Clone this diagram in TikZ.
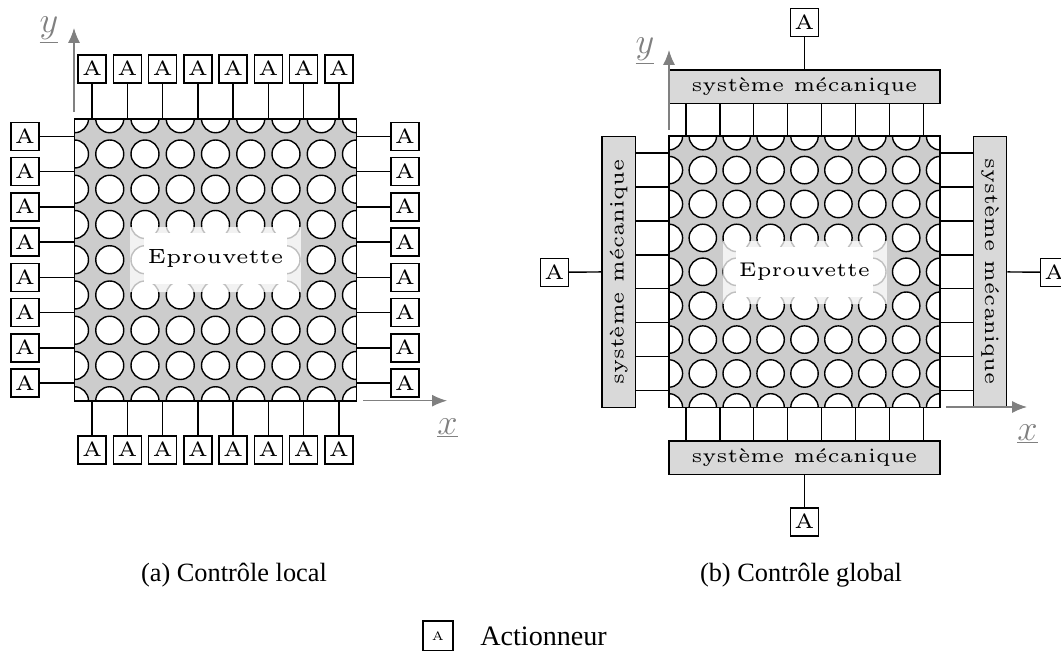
\documentclass[tikz,border=0pt]{standalone}
\usepackage{fontspec}
\setmainfont{Liberation Serif}
\usetikzlibrary{arrows.meta,calc}
\font\wideA=cmr5 at 11.7pt
\font\wideB=cmr5 at 11.3pt
\font\wideC=cmr5 at 7pt
\newcommand{\grv}[1]{{\accent18 #1}}
\newcommand{\acu}[1]{{\accent19 #1}}
\newcommand{\sysname}{syst\grv{e}me m\acu{e}canique}
\newcommand{\platecells}[5]{%
    % plaque perforee : nom, centre x, centre y, pas, rayon
    \node[plate, minimum size=8*#4*0.02cm] (#1) at (#2,#3) {};
    \begin{scope}
        \clip (#1.south west) rectangle (#1.north east);
        \foreach \i in {-4,...,4}
            \foreach \j in {-4,...,4}
                \draw[hole] (#2+\i*#4,#3+\j*#4) circle (#5);
    \end{scope}
    \node[plateborder, minimum size=8*#4*0.02cm] at (#1) {};
}
\begin{document}
\begin{tikzpicture}[
        x=0.02cm, y=-0.02cm,
        % Styles des elements
        plate/.style={fill=black!20, inner sep=0pt, outer sep=0pt},
        plateborder/.style={draw=black, line width=1pt, inner sep=0pt, outer sep=0pt},
        hole/.style={draw=black, fill=white, line width=0.8pt},
        actuator/.style={draw=black, fill=white, line width=0.8pt, minimum size=28*0.02cm, inner sep=0pt, font=\wideA},
        mecabox/.style={draw=black, fill=black!15, line width=0.8pt, inner sep=0pt, font=\wideB, minimum width=271*0.02cm, minimum height=33.5*0.02cm},
        link/.style={black, line width=0.8pt},
        axis/.style={black!50, line width=0.7pt, -{Latex[length=8.5pt,width=6.8pt]}},
        axislabel/.style={black!50, font=\fontsize{22}{22}\selectfont},
        caption/.style={anchor=base, font=\fontsize{15}{18}\selectfont}
    ]
    \useasboundingbox (0,0) rectangle (1061,651);

    % (a) Controle local
    \platecells{plateA}{215.5}{259.75}{35.25}{14*0.02cm}
    \fill[white, opacity=0.75] (130,227) rectangle (301,292);
    \node[fill=white, minimum width=143*0.02cm, minimum height=51*0.02cm, inner sep=0pt, font=\wideA] (testA) at (215.5,259) {Eprouvette};

    \foreach \i in {1,...,8} {
        \node[actuator] (topA\i) at (56.9+\i*35.25,69) {A};
        \node[actuator] (botA\i) at (56.9+\i*35.25,450) {A};
        \node[actuator] (lefA\i) at (25,101.1+\i*35.25) {A};
        \node[actuator] (rigA\i) at (405,101.1+\i*35.25) {A};
        \draw[link] (topA\i) -- (topA\i |- plateA.north);
        \draw[link] (botA\i) -- (botA\i |- plateA.south);
        \draw[link] (lefA\i) -- (lefA\i -| plateA.west);
        \draw[link] (rigA\i) -- (rigA\i -| plateA.east);
    }

    \coordinate (yfootA) at (74,112);
    \coordinate (yheadA) at (74,28);
    \coordinate (xfootA) at (363,400.7);
    \coordinate (xheadA) at (447,400.7);
    \draw[axis] (yfootA) -- (yheadA);
    \draw[axis] (xfootA) -- (xheadA);
    \node[axislabel] (ylabA) at (49,30) {$\underline{y}$};
    \node[axislabel] (xlabA) at (447.5,428) {$\underline{x}$};

    % (b) Controle global
    \platecells{plateB}{804.5}{271.8}{33.9}{13.7*0.02cm}
    \fill[white, opacity=0.75] (722.7,240.7) rectangle (886.7,304);
    \node[fill=white, minimum width=137*0.02cm, minimum height=50*0.02cm, inner sep=0pt, font=\wideB] (testB) at (804.5,272) {Eprouvette};

    \node[mecabox] (sysT) at (804.5,86.7) {\sysname};
    \node[mecabox] (sysB) at (804.5,457.6) {\sysname};
    \node[mecabox, rotate=90] (sysL) at (618.7,271.8) {\sysname};
    \node[mecabox, rotate=-90] (sysR) at (990,271.8) {\sysname};

    \foreach \i in {1,...,8} {
        \coordinate (colB\i) at (652.0+\i*33.9,271.8);
        \coordinate (rowB\i) at (804.5,119.3+\i*33.9);
        \draw[link] (colB\i |- sysT.south) -- (colB\i |- plateB.north);
        \draw[link] (colB\i |- sysB.north) -- (colB\i |- plateB.south);
        \draw[link] (rowB\i -| sysL.south) -- (rowB\i -| plateB.west);
        \draw[link] (rowB\i -| sysR.south) -- (rowB\i -| plateB.east);
    }

    \node[actuator] (actT) at (804.5,22.5) {A};
    \node[actuator] (actB) at (804.5,522) {A};
    \node[actuator] (actL) at (554.5,272.3) {A};
    \node[actuator] (actR) at (1054.5,272.3) {A};
    \draw[link] (actT) -- (sysT);
    \draw[link] (actB) -- (sysB);
    \draw[link] (actL) -- (sysL);
    \draw[link] (actR) -- (sysR);

    \coordinate (yfootB) at (669,130);
    \coordinate (yheadB) at (669,50);
    \coordinate (xfootB) at (946,407);
    \coordinate (xheadB) at (1027,407);
    \draw[axis] (yfootB) -- (yheadB);
    \draw[axis] (xfootB) -- (xheadB);
    \node[axislabel] (ylabB) at (645,51) {$\underline{y}$};
    \node[axislabel] (xlabB) at (1027.5,434) {$\underline{x}$};

    % Legendes
    \node[caption] (capA) at (234,581.7) {(a) Contrôle local};
    \node[caption] (capB) at (801,581.7) {(b) Contrôle global};
    \node[actuator, font=\wideC, minimum size=30*0.02cm] (keyA) at (438,636) {A};
    \node[caption, anchor=base west, inner sep=0pt, font=\fontsize{16}{18}\selectfont] (keyT) at (480,645) {Actionneur};
\end{tikzpicture}
\end{document}
